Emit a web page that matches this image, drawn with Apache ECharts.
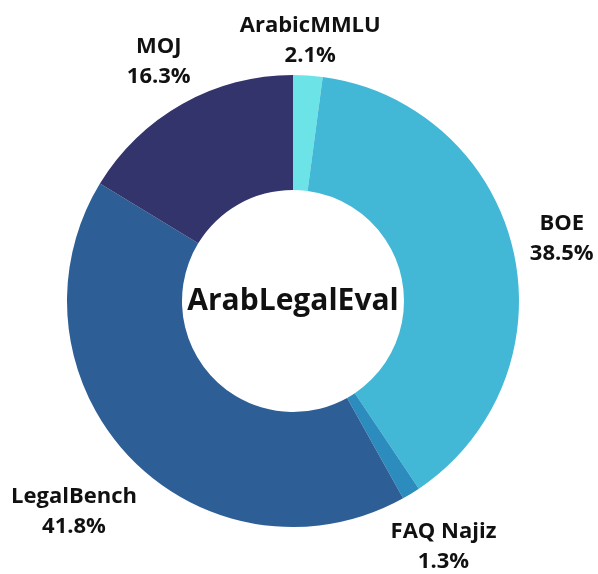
<!DOCTYPE html>
<html>
<head>
<meta charset="utf-8">
<script src="https://cdn.jsdelivr.net/npm/echarts@6/dist/echarts.min.js"></script>
<style>
  html, body { margin: 0; padding: 0; background: #fff; }
  #chartmain { width: 598px; height: 574px; }
</style>
</head>
<body>
<div id="chartmain"></div>
<script>
var names = ['ArabicMMLU', 'BOE', 'FAQ Najiz', 'LegalBench', 'MOJ'];
var shares = [2.1, 38.5, 1.3, 41.8, 16.3];
var colors = ['#6ce3e6', '#42b8d6', '#2b8cbd', '#2d5f96', '#32346b'];
// how far each label block sits from the centre (px)
var labelDist = [261, 276, 288, 304, 274];

var cx = 293, cy = 301;
var total = shares.reduce(function (a, b) { return a + b; }, 0);
var midAngles = [];
var acc = 0;
for (var i = 0; i < shares.length; i++) {
	midAngles.push((acc + shares[i] / 2) / total * 2 * Math.PI);
	acc += shares[i];
}

var pieData = [];
for (var i = 0; i < names.length; i++) {
	pieData.push({
		name: names[i],
		value: shares[i],
		itemStyle: { color: colors[i] }
	});
}

var option = {
	backgroundColor: '#ffffff',
	animation: false,
	graphic: [{
		type: 'text',
		style: {
			text: 'ArabLegalEval',
			x: cx,
			y: cy,
			align: 'center',
			verticalAlign: 'middle',
			font: 'bold 30px "Open Sans"',
			fill: '#111111'
		}
	}],
	series: [{
		type: 'pie',
		center: [cx, cy],
		radius: [111, 226],
		startAngle: 90,
		clockwise: true,
		avoidLabelOverlap: false,
		itemStyle: { borderWidth: 0 },
		label: {
			show: true,
			position: 'outside',
			formatter: '{b}\n{c}%',
			fontFamily: 'Open Sans',
			fontWeight: 'bold',
			fontSize: 22,
			lineHeight: 30,
			color: '#111111',
			align: 'center'
		},
		labelLine: { show: false },
		labelLayout: function (params) {
			var k = params.dataIndex;
			var a = midAngles[k];
			return {
				x: cx + labelDist[k] * Math.sin(a),
				y: cy - labelDist[k] * Math.cos(a),
				align: 'center',
				verticalAlign: 'middle'
			};
		},
		emphasis: { disabled: true },
		data: pieData
	}]
};

var myChart = echarts.init(document.getElementById('chartmain'));
myChart.setOption(option);
</script>
</body>
</html>
